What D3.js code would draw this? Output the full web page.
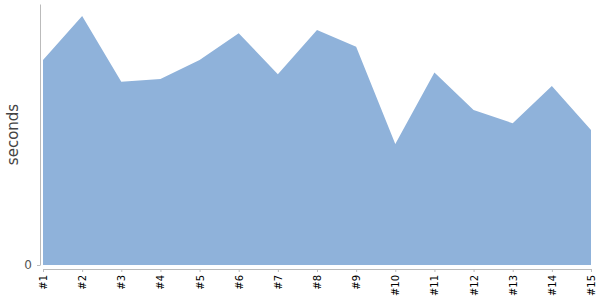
<!DOCTYPE html>
<html>
<head>
<meta charset="utf-8">
<script src="https://cdn.jsdelivr.net/npm/d3@7"></script>
<style>
  body { margin: 0; background: #fff; }
  text { font-family: "DejaVu Sans", sans-serif; }
</style>
</head>
<body>
<div id="chart"></div>
<script>
// Run labels and their durations (seconds)
const runs = ["#1", "#2", "#3", "#4", "#5", "#6", "#7", "#8", "#9", "#10", "#11", "#12", "#13", "#14", "#15"];
const seconds = [78.5, 95.4, 70.2, 71.3, 78.5, 88.8, 73.1, 90.0, 83.6, 46.4, 73.8, 59.4, 54.3, 68.6, 51.7];
const yTicks = [0];

const width = 600, height = 300;
const margin = {top: 4, right: 9, bottom: 35, left: 40};

let svg = d3.select("#chart")
    .append("svg")
    .attr("width", width)
    .attr("height", height);

// x: one point per run, small gap from the y axis
let x = d3.scalePoint()
    .domain(runs)
    .range([margin.left + 3, width - margin.right]);

let y = d3.scaleLinear()
    .domain([0, 100])
    .range([height - margin.bottom, margin.top]);

let data = runs.map((r, i) => ({run: r, value: seconds[i]}));

// Area
let area = d3.area()
    .x(d => x(d.run))
    .y0(y(0))
    .y1(d => y(d.value));

svg.append("path")
    .datum(data)
    .attr("d", area)
    .attr("fill", "#8fb2da");

// y axis
let yAxis = svg.append("g")
    .attr("transform", `translate(${margin.left}, 0)`)
    .call(d3.axisLeft(y).tickValues(yTicks).tickSize(3).tickPadding(5).tickSizeOuter(0));
yAxis.select(".domain").attr("stroke", "#bbb");
yAxis.selectAll(".tick line").attr("stroke", "#bbb");
yAxis.selectAll(".tick text").attr("fill", "#555").style("font-size", "12px");

// x axis
let xAxis = svg.append("g")
    .attr("transform", `translate(0, ${height - margin.bottom + 4})`)
    .call(d3.axisBottom(x).tickSize(3).tickSizeOuter(0));
xAxis.select(".domain").attr("stroke", "#bbb");
xAxis.selectAll(".tick line").attr("stroke", "#bbb");
xAxis.selectAll(".tick text")
    .attr("fill", "#000")
    .style("font-size", "10px")
    .style("text-anchor", "end")
    .attr("transform", "rotate(-90)")
    .attr("x", -6)
    .attr("y", 0)
    .attr("dy", "0.35em");

// y axis label
svg.append("text")
    .attr("transform", `translate(18, ${(margin.top + height - margin.bottom) / 2}) rotate(-90)`)
    .style("text-anchor", "middle")
    .style("font-size", "15px")
    .attr("fill", "#444")
    .text("seconds");
</script>
</body>
</html>
